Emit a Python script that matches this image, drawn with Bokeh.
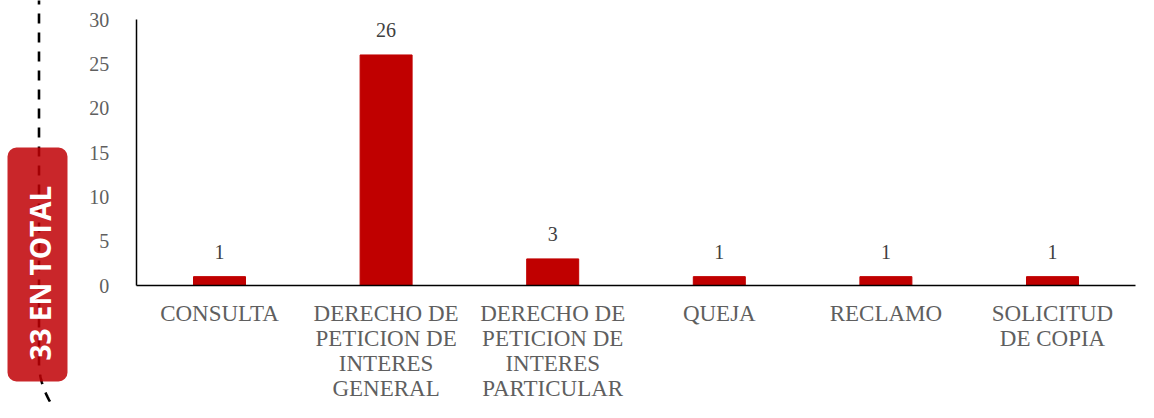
import numpy as np
from bokeh.plotting import figure
from bokeh.models import (ColumnDataSource, BoxAnnotation, LabelSet, Label,
                          Range1d, FixedTicker, LinearAxis)
from bokeh.core.properties import value
from bokeh.embed import file_html
from bokeh.resources import INLINE

categories = ["CONSULTA", "DERECHO DE\nPETICION DE\nINTERES\nGENERAL",
              "DERECHO DE\nPETICION DE\nINTERES\nPARTICULAR", "QUEJA", "RECLAMO",
              "SOLICITUD\nDE COPIA"]
counts = [1, 26, 3, 1, 1, 1]
total_label = "33 EN TOTAL"
y_ticks = [0, 5, 10, 15, 20, 25, 30]

SERIF = "Liberation Serif"
GRAY = "#5f5f5f"
W, H = 1138, 402
OFF = 1                      # page offset of the figure canvas
# layout (page pixels)
AX_LEFT, AX_RIGHT = 136.7, 1136.3
AX_ZERO, AX_TOP = 286.0, 20.0
YMAX = 30.0

ncat = len(categories)
xpx = (AX_RIGHT - AX_LEFT) / ncat
ypx = (AX_ZERO - AX_TOP) / YMAX
x_lo = (OFF - AX_LEFT) / xpx
x_hi = (OFF + W - AX_LEFT) / xpx
y_hi = (AX_ZERO - OFF) / ypx
y_lo = (AX_ZERO - (OFF + H)) / ypx

xpos = [i + 0.5 for i in range(ncat)]
src = ColumnDataSource(dict(x=xpos, val=counts, lab=[str(v) for v in counts]))

p = figure(width=W, height=H, x_range=Range1d(x_lo, x_hi),
           y_range=Range1d(y_lo, y_hi), output_backend="svg",
           toolbar_location=None, x_axis_location=None, y_axis_location=None,
           min_border=0, min_border_left=0, min_border_right=0,
           min_border_top=0, min_border_bottom=0)
p.outline_line_color = None
p.grid.visible = False
p.extra_x_ranges = {"px": Range1d(OFF, OFF + W)}
p.extra_y_ranges = {"px": Range1d(OFF + H, OFF)}

# ---- left decoration (page pixel coordinates) ----
ys_path = np.concatenate([np.linspace(-5, 363, 40), np.linspace(363, 430, 40)])
xs_path = 39.5 + np.where(ys_path > 363, (ys_path - 363) ** 2 / 139.0, 0.0)
p.line(xs_path, ys_path, x_range_name="px", y_range_name="px",
       line_color="black", line_width=2.6, line_dash="10 9")
p.add_layout(BoxAnnotation(left=8, right=68, top=148, bottom=382,
                           x_range_name="px", y_range_name="px",
                           fill_color="#C00005", fill_alpha=0.85,
                           line_color=None, border_radius=9))
p.add_layout(Label(x=40, y=273.5, x_range_name="px", y_range_name="px",
                   text=total_label, angle=np.pi / 2,
                   text_align="center", text_baseline="middle",
                   text_color="white", text_font="Open Sans",
                   text_font_style="bold", text_font_size="28px"))

# ---- bars ----
p.vbar(x="x", top="val", width=52 / xpx, source=src, color="#C00000")
p.add_layout(LabelSet(x="x", y="val", text="lab", source=src,
                      y_offset=18, text_align="center",
                      text_baseline="alphabetic", text_color="#404040",
                      text_font=value(SERIF), text_font_size="20px"))

# ---- axes ----
yax = LinearAxis(fixed_location=0, bounds=(0, YMAX),
                 ticker=FixedTicker(ticks=y_ticks))
xax = LinearAxis(fixed_location=0, bounds=(0, ncat),
                 ticker=FixedTicker(ticks=xpos),
                 major_label_overrides={x: c for x, c in zip(xpos, categories)})
p.add_layout(yax, "left")
p.add_layout(xax, "below")
for ax in (xax, yax):
    ax.major_tick_line_color = None
    ax.minor_tick_line_color = None
    ax.axis_line_color = "black"
    ax.axis_line_width = 1.5
    ax.major_label_text_font = SERIF
    ax.major_label_text_color = GRAY
yax.major_label_text_font_size = "20px"
yax.major_label_standoff = 21
xax.major_label_text_font_size = "23px"
xax.major_label_standoff = 9
xax.major_label_text_line_height = 1.0

open("out.html", "w").write(file_html(p, INLINE))
